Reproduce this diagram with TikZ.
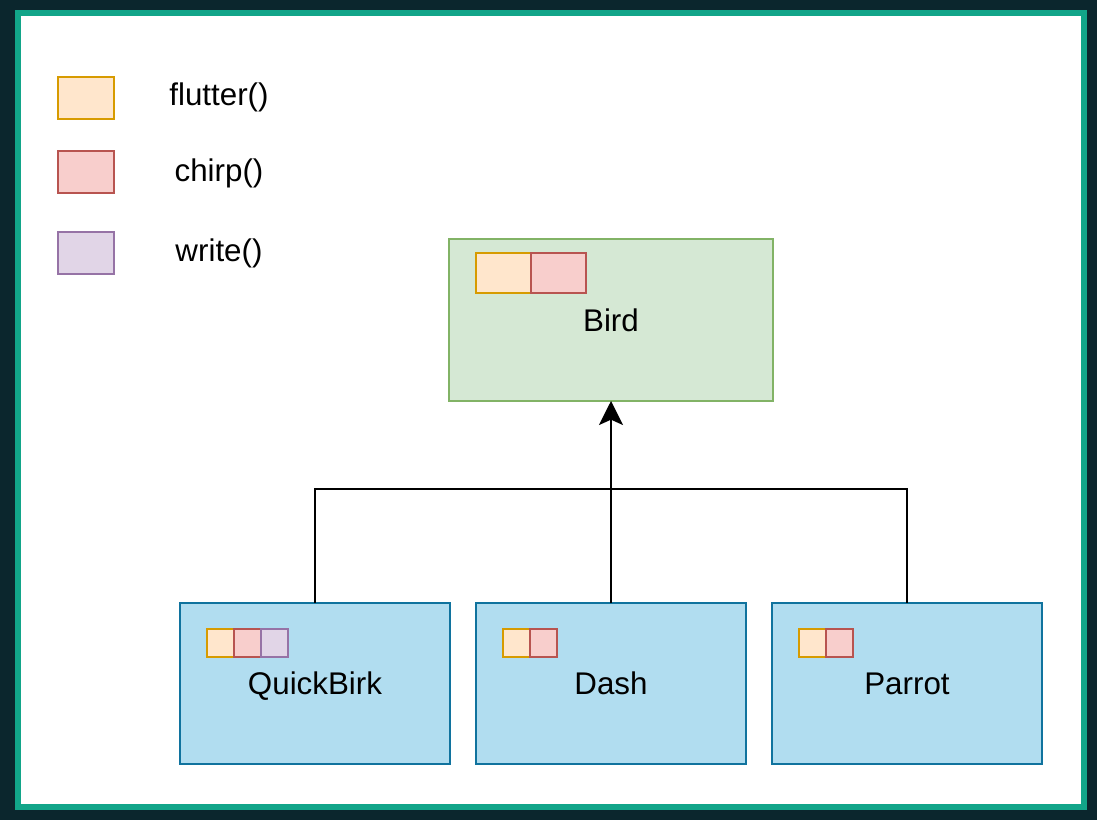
\documentclass[tikz,border=0pt]{standalone}
\usepackage{fontspec}
\setmainfont{Liberation Sans}
\usetikzlibrary{positioning,arrows.meta}

\definecolor{frameDark}{HTML}{0B262D}
\definecolor{frameTeal}{HTML}{12A589}
\definecolor{flutterFill}{HTML}{FFE6CC}
\definecolor{flutterLine}{HTML}{D79B00}
\definecolor{chirpFill}{HTML}{F8CECC}
\definecolor{chirpLine}{HTML}{B85450}
\definecolor{writeFill}{HTML}{E1D5E7}
\definecolor{writeLine}{HTML}{9673A6}
\definecolor{birdFill}{HTML}{D5E8D4}
\definecolor{birdLine}{HTML}{82B366}
\definecolor{kidFill}{HTML}{B1DDF0}
\definecolor{kidLine}{HTML}{10739E}

\tikzset{every picture/.style={line width=0.75pt}}

\tikzset{
  lbl/.style={font=\fontsize{23.5}{28}\selectfont},
  classbox/.style={lbl, draw, line width=1.5pt, inner sep=0pt, outer sep=0pt, text height=16.8pt, text depth=0pt},
  parentbox/.style={classbox, fill=birdFill, draw=birdLine, minimum width=243pt, minimum height=121.5pt},
  childbox/.style={classbox, fill=kidFill, draw=kidLine, minimum width=202.5pt, minimum height=120.75pt},
  method/.style={draw, line width=1.5pt, inner sep=0pt, outer sep=0pt},
  flutterbox/.style={method, fill=flutterFill, draw=flutterLine},
  chirpbox/.style={method, fill=chirpFill, draw=chirpLine},
  writebox/.style={method, fill=writeFill, draw=writeLine},
  legendsz/.style={minimum width=42pt, minimum height=31.5pt},
  bigsz/.style={minimum width=41pt, minimum height=30pt},
  smallsz/.style={minimum width=20.25pt, minimum height=21pt},
  link/.style={line width=1.5pt, black}
}

\begin{document}
\begin{tikzpicture}[x=0.75pt,y=0.75pt,yscale=-1,xscale=1]
	%Frame
	\fill[frameDark] (0,0) rectangle (1097,820);
	\draw[frameTeal, line width=4.5pt, fill=white] (18,13) rectangle (1084,807);

	%Legend
	\node[flutterbox, legendsz] (legFlutter) at (86,98) {};
	\node[chirpbox, legendsz] (legChirp) at (86,172) {};
	\node[writebox, legendsz] (legWrite) at (86,253) {};
	% Text Node
	\node[lbl] (txtFlutter) at (219,97) {flutter()};
	% Text Node
	\node[lbl] (txtChirp) at (219,173) {chirp()};
	% Text Node
	\node[lbl] (txtWrite) at (219,253) {write()};

	%Shape: Rectangle
	\node[parentbox] (bird) at (611,320) {Bird};
	\node[flutterbox, bigsz] (birdFl) at (503.5,273) {};
	\node[chirpbox, bigsz, right=0pt of birdFl] (birdCh) {};

	%Shape: Rectangle
	\node[childbox] (quick) at (315,683.5) {QuickBirk};
	\node[flutterbox, smallsz] (quickFl) at (220.5,643) {};
	\node[chirpbox, smallsz, right=0pt of quickFl] (quickCh) {};
	\node[writebox, smallsz, right=0pt of quickCh] (quickWr) {};

	%Shape: Rectangle
	\node[childbox] (dash) at (611,683.5) {Dash};
	\node[flutterbox, smallsz] (dashFl) at (516.5,643) {};
	\node[chirpbox, smallsz, right=0pt of dashFl] (dashCh) {};

	%Shape: Rectangle
	\node[childbox] (parrot) at (907,683.5) {Parrot};
	\node[flutterbox, smallsz] (parrotFl) at (812.5,643) {};
	\node[chirpbox, smallsz, right=0pt of parrotFl] (parrotCh) {};

	%Connectors
	\coordinate (joint) at (611,488.5);
	\draw[link] (quick.north) |- (joint) -| (parrot.north);
	\draw[link, -{Stealth[length=18pt, width=18pt, inset=4pt]}] (dash.north) -- (bird.south);
\end{tikzpicture}
\end{document}
